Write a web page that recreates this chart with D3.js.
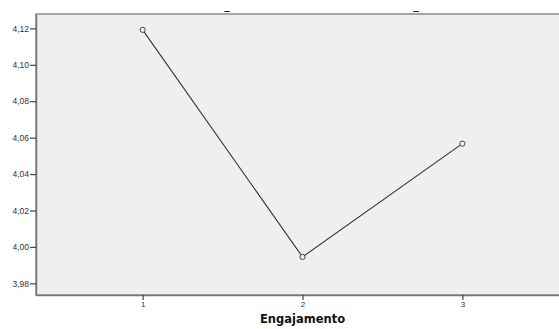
<!DOCTYPE html>
<html>
<head>
<meta charset="utf-8">
<script src="https://cdn.jsdelivr.net/npm/d3@7"></script>
<style>
  body { margin: 0; background: #fff; }
  svg { display: block; font-family: "DejaVu Sans", Arial, sans-serif; }
</style>
</head>
<body>
<div id="chart"></div>
<script>
// values
const levels = [1, 2, 3];
const means = [4.1192, 3.9945, 4.0567];
const yTicks = [3.98, 4.00, 4.02, 4.04, 4.06, 4.08, 4.10, 4.12];
const xTitle = "Engajamento";

const W = 559, H = 329;
const margin = {top: 14, right: -10, bottom: 34, left: 36};
const width = W - margin.left - margin.right;
const height = H - margin.top - margin.bottom;

const svg = d3.select("#chart").append("svg")
    .attr("width", W)
    .attr("height", H);

// cut-off remains of the title
svg.append("text").attr("x", 227).attr("y", 9).attr("text-anchor", "middle")
    .attr("font-size", 11).attr("font-weight", "bold").attr("fill", "#222").text("_");
svg.append("text").attr("x", 416).attr("y", 9).attr("text-anchor", "middle")
    .attr("font-size", 11).attr("font-weight", "bold").attr("fill", "#222").text("_");

const g = svg.append("g").attr("transform", `translate(${margin.left},${margin.top})`);

const x = d3.scaleLinear().domain([0.333, 3.667]).range([0, width]);
const y = d3.scaleLinear().domain([3.9736, 4.1279]).range([height, 0]);

g.append("rect")
    .attr("width", width)
    .attr("height", height)
    .attr("fill", "#efefef")
    .attr("stroke", "#8a8a8a")
    .attr("stroke-width", 1.5);

// axes
const yAxis = g.append("g")
    .call(d3.axisLeft(y).tickValues(yTicks).tickSize(6).tickSizeOuter(0)
        .tickFormat(d => d3.format(".2f")(d).replace(".", ",")));
yAxis.select(".domain").attr("stroke", "#777").attr("stroke-width", 1.5);
yAxis.selectAll(".tick line").attr("stroke", "#444").attr("stroke-width", 1.2);
yAxis.selectAll("text").attr("font-size", 8.5).attr("fill", "#333").attr("dx", 2);

const xAxis = g.append("g")
    .attr("transform", `translate(0,${height})`)
    .call(d3.axisBottom(x).tickValues(levels).tickSize(5).tickSizeOuter(0).tickFormat(d3.format("d")));
xAxis.select(".domain").attr("stroke", "#777").attr("stroke-width", 1.5);
xAxis.selectAll(".tick line").attr("stroke", "#444").attr("stroke-width", 1.2);
xAxis.selectAll("text").attr("font-size", 8).attr("fill", "#333").attr("dy", "0.45em");

// line and markers
const pts = levels.map((l, i) => ({l, v: means[i]}));
g.append("path")
    .datum(pts)
    .attr("fill", "none")
    .attr("stroke", "#333")
    .attr("stroke-width", 1.1)
    .attr("d", d3.line().x(d => x(d.l)).y(d => y(d.v)));

g.selectAll(".pt")
    .data(pts)
    .enter().append("circle")
    .attr("class", "pt")
    .attr("cx", d => x(d.l))
    .attr("cy", d => y(d.v))
    .attr("r", 2.6)
    .attr("fill", "#efefef")
    .attr("stroke", "#444")
    .attr("stroke-width", 1);

svg.append("text")
    .attr("x", margin.left + x(2))
    .attr("y", 323)
    .attr("text-anchor", "middle")
    .attr("font-size", 11.5)
    .attr("font-weight", "bold")
    .attr("fill", "#111")
    .text(xTitle);
</script>
</body>
</html>
